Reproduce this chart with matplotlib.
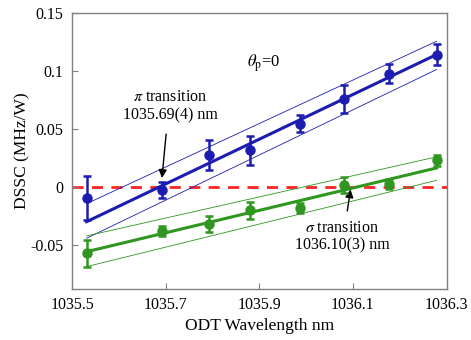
import matplotlib
matplotlib.use("Agg")
import matplotlib.pyplot as plt
import numpy as np

plt.rcParams['font.family'] = ['Liberation Serif', 'DejaVu Serif']
plt.rcParams['mathtext.fontset'] = 'stix'

# data
wavelength = [1035.531, 1035.692, 1035.792, 1035.881, 1035.986, 1036.081, 1036.177, 1036.279]
pi_dssc = [-0.0092, -0.0023, 0.0276, 0.0316, 0.0546, 0.0761, 0.0980, 0.1144]
pi_err = [0.019, 0.0068, 0.013, 0.0125, 0.0072, 0.0118, 0.0085, 0.009]
sigma_dssc = [-0.0572, -0.0379, -0.0322, -0.0201, -0.0178, 0.0017, 0.0023, 0.0230]
sigma_err = [0.0115, 0.004, 0.007, 0.0075, 0.0042, 0.007, 0.0043, 0.005]

# fit lines (value at first and last wavelength): best, upper, lower
pi_fit = [-0.0299, 0.1144]
pi_fit_upper = [-0.0144, 0.1259]
pi_fit_lower = [-0.0442, 0.1015]
sigma_fit = [-0.0558, 0.0165]
sigma_fit_upper = [-0.0422, 0.0261]
sigma_fit_lower = [-0.0687, 0.0058]

xticks = [1035.5, 1035.7, 1035.9, 1036.1, 1036.3]
xtick_labels = ['1035.5', '1035.7', '1035.9', '1036.1', '1036.3']
yticks = [-0.05, 0, 0.05, 0.1, 0.15]
ytick_labels = ['-0.05', '0', '0.05', '0.1', '0.15']

blue = '#1c1cb0'
green = '#2f961f'
red = '#ff2424'

fig = plt.figure(figsize=(4.71, 3.40), dpi=100)
ax = fig.add_axes([0.153, 0.15, 0.795, 0.811])

xe = [wavelength[0], wavelength[-1]]

ax.axhline(0, color=red, lw=2.0, dashes=(4, 3), zorder=1)

for fit, c in [(pi_fit_upper, blue), (pi_fit_lower, blue),
               (sigma_fit_upper, green), (sigma_fit_lower, green)]:
    ax.plot(xe, fit, color=c, lw=0.6, zorder=2)
ax.plot(xe, pi_fit, color=blue, lw=2.2, zorder=3)
ax.plot(xe, sigma_fit, color=green, lw=2.2, zorder=3)

ax.errorbar(wavelength, pi_dssc, yerr=pi_err, fmt='o', color=blue, ms=6.5,
            elinewidth=1.8, capsize=2.7, capthick=1.8, zorder=4)
ax.errorbar(wavelength, sigma_dssc, yerr=sigma_err, fmt='o', color=green, ms=6.5,
            elinewidth=1.8, capsize=2.7, capthick=1.8, zorder=4)

ax.set_xlim(1035.5, 1036.3)
ax.set_ylim(-0.088, 0.15)
ax.set_xticks(xticks)
ax.set_xticklabels(xtick_labels)
ax.set_yticks(yticks)
ax.set_yticklabels(ytick_labels)
ax.tick_params(direction='in', length=4, color='#808080', labelsize=11.5, pad=6)
for s in ax.spines.values():
    s.set_color('#808080')
    s.set_linewidth(1.0)

ax.set_xlabel('ODT Wavelength nm', fontsize=12.5, labelpad=3)
ax.set_ylabel('DSSC (MHz/W)', fontsize=12.5, labelpad=0)

ax.text(1035.909, 0.1069, r'$\theta_{\mathrm{p}}$=0', fontsize=12, ha='center', va='center')

ax.text(1035.71, 0.0698, '$\\pi$ transition\n1035.69(4) nm', ha='center', va='center',
        fontsize=11.5, linespacing=1.15)
ax.annotate('', xy=(1035.692, 0.0078), xytext=(1035.701, 0.0457),
            arrowprops=dict(arrowstyle='-|>', color='black', lw=1.0,
                            mutation_scale=12, shrinkA=0, shrinkB=0))
ax.text(1036.077, -0.0431, '$\\sigma$ transition\n1036.10(3) nm', ha='center', va='center',
        fontsize=11.5, linespacing=1.15)
ax.annotate('', xy=(1036.095, -0.002), xytext=(1036.088, -0.0207),
            arrowprops=dict(arrowstyle='-|>', color='black', lw=1.0,
                            mutation_scale=12, shrinkA=0, shrinkB=0))

fig.savefig('out.png', dpi=100)
